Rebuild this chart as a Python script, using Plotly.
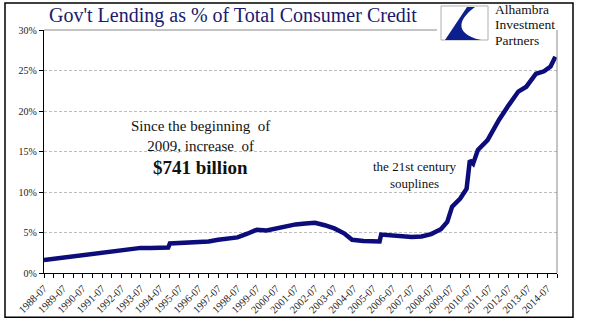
import plotly.graph_objects as go

# ---- data ----
dates = ["1988-07", "1989-01", "1989-07", "1990-01", "1990-07", "1991-01", "1991-07",
         "1992-01", "1992-07", "1993-01", "1993-07", "1994-01", "1994-07", "1994-12",
         "1995-01", "1995-07", "1996-01", "1996-07", "1997-01", "1997-07", "1998-01",
         "1998-07", "1999-01", "1999-07", "2000-01", "2000-07", "2001-01", "2001-07",
         "2002-01", "2002-07", "2003-01", "2003-07", "2004-01", "2004-06", "2005-01",
         "2005-11", "2005-12", "2006-07", "2007-01", "2007-07", "2008-01", "2008-07",
         "2009-01", "2009-05", "2009-08", "2010-01", "2010-05", "2010-07", "2010-09",
         "2010-12", "2011-06", "2012-01", "2012-07", "2013-01", "2013-06", "2013-12",
         "2014-05", "2014-09", "2014-12"]
gov_share = [1.6, 1.75, 1.85, 2.0, 2.15, 2.35, 2.55,
             2.7, 2.85, 3.0, 3.1, 3.1, 3.15, 3.15,
             3.65, 3.7, 3.75, 3.8, 3.9, 4.1, 4.3,
             4.4, 4.85, 5.35, 5.25, 5.5, 5.7, 6.0,
             6.1, 6.2, 5.9, 5.5, 4.9, 4.1, 3.95,
             3.9, 4.75, 4.6, 4.55, 4.45, 4.5, 4.8,
             5.4, 6.3, 8.2, 9.2, 10.4, 13.9, 13.5,
             15.2, 16.4, 18.9, 20.7, 22.4, 23.0, 24.6,
             24.9, 25.5, 26.7]
label_years = list(range(1988, 2015))
tick_labels = [f"{y}-07" for y in label_years]
y_ticks = [0, 5, 10, 15, 20, 25, 30]
y_tick_labels = [f"{v}%" for v in y_ticks]
logo_lines = ["Alhambra", "Investment", "Partners"]

# ---- geometry helpers (pixel -> paper) ----
W, H = 593, 324
L, R, T, B = 44, 557, 30, 272.7


def px(x):
    return (x - L) / (R - L)


def py(y):
    return (B - y) / (B - T)


SERIF = "Liberation Serif, Times New Roman, serif"

fig = go.Figure()
fig.add_trace(go.Scatter(
    x=[d + "-01" for d in dates], y=gov_share, mode="lines",
    line=dict(color="#0c0c7a", width=4.5), showlegend=False, hoverinfo="skip"))

fig.update_layout(
    width=W, height=H,
    margin=dict(l=L, r=W - R, t=T, b=H - B),
    paper_bgcolor="white", plot_bgcolor="white",
    font=dict(family=SERIF, color="#222"),
    xaxis=dict(
        type="date", range=["1988-07-01", "2015-01-01"], automargin=False,
        tickmode="array", tickvals=[f"{y}-07-01" for y in label_years], ticktext=tick_labels,
        tickangle=-45, tickfont=dict(family=SERIF, size=10.5, color="#222"),
        ticks="outside", ticklen=4, tickcolor="black",
        showline=True, linecolor="black", linewidth=1.3, showgrid=False, zeroline=False,
        minor=dict(tickvals=[f"{y}-01-01" for y in range(1989, 2016)], ticks="outside",
                   ticklen=4, tickcolor="black", showgrid=False),
    ),
    yaxis=dict(
        range=[0, 30], tickmode="array", tickvals=y_ticks, ticktext=y_tick_labels,
        tickfont=dict(family=SERIF, size=10, color="#222"), automargin=False,
        ticks="outside", ticklen=4, tickcolor="black",
        showline=True, linecolor="black", linewidth=1.3,
        showgrid=True, gridcolor="#bdbdbd", griddash="3px,2px", gridwidth=1, zeroline=False,
    ),
)

shapes = [
    # outer frame
    dict(type="rect", xref="paper", yref="paper", x0=px(5), x1=px(573), y0=py(317), y1=py(3),
         line=dict(color="black", width=1.5)),
    # plot area right border
    dict(type="line", xref="paper", yref="paper", x0=1, x1=1, y0=0, y1=1,
         line=dict(color="#8a8a8a", width=1)),
    # plot area top border (under title)
    dict(type="line", xref="paper", yref="paper", x0=0, x1=px(437), y0=1, y1=1,
         line=dict(color="#8a8a8a", width=1)),
    # logo box
    dict(type="rect", xref="paper", yref="paper", x0=px(441), x1=px(488), y0=py(40), y1=py(6),
         line=dict(color="#b0b0b0", width=1), fillcolor="white"),
]


def P(x, y):
    return f"{px(x)},{py(y)}"


# logo swoosh
path = (f"M {P(467, 7)} L {P(475, 7)} "
        f"C {P(461, 17)} {P(451, 33)} {P(481, 40)} "
        f"L {P(445, 40)} Z")
shapes.append(dict(type="path", xref="paper", yref="paper", path=path,
                   fillcolor="#0c1f8c", line=dict(width=0)))
fig.update_layout(shapes=shapes)

annos = [
    dict(text="Gov't Lending as % of Total Consumer Credit", x=px(47), y=py(29),
         xanchor="left", yanchor="bottom", font=dict(family=SERIF, size=20, color="#1a1a6e")),
    dict(text="Since the beginning  of<br>2009, increase  of", x=px(200), y=py(136),
         xanchor="center", yanchor="middle", align="center",
         font=dict(family=SERIF, size=15, color="#111")),
    dict(text="<b>$741 billion</b>", x=px(200), y=py(167), xanchor="center", yanchor="middle",
         font=dict(family=SERIF, size=19, color="#111")),
    dict(text="the 21st century<br>souplines", x=px(415), y=py(175), xanchor="center",
         yanchor="middle", align="center", font=dict(family=SERIF, size=13, color="#111")),
]
for i, t in enumerate(logo_lines):
    annos.append(dict(text=t, x=px(494), y=py(10 + 15 * i), xanchor="left", yanchor="middle",
                      borderpad=0, font=dict(family=SERIF, size=13.5, color="#111")))
for a in annos:
    a.update(xref="paper", yref="paper", showarrow=False)
fig.update_layout(annotations=annos)

fig.write_html("out.html")
